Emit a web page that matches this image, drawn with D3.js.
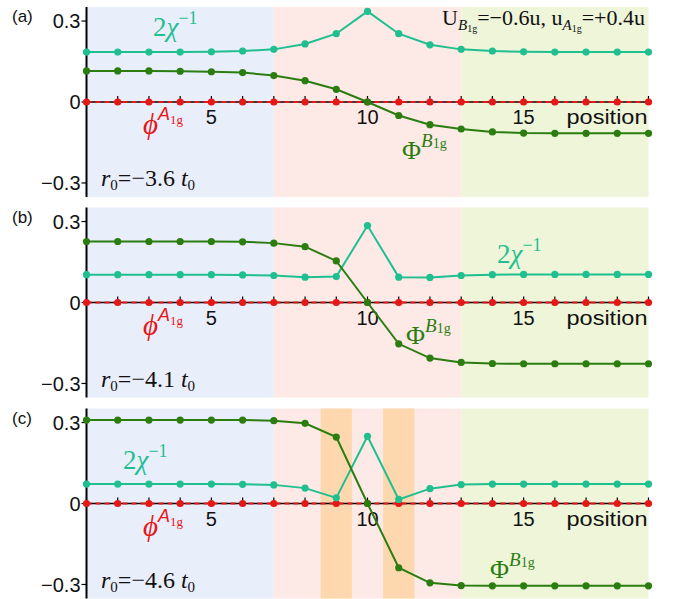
<!DOCTYPE html>
<html>
<head>
<meta charset="utf-8">
<script src="https://cdn.jsdelivr.net/npm/d3@7"></script>
<style>
  body { margin: 0; background: #fff; }
  svg { display: block; }
</style>
</head>
<body>
<div id="chart"></div>
<script>
// sites along the chain
const positions = d3.range(1, 20);
const xTicks = [5, 10, 15];
const yTicks = [-0.3, 0, 0.3];

const panelNames = ["(a)", "(b)", "(c)"];
const r0Values = ["−3.6", "−4.1", "−4.6"];

// 2 chi^-1
const chiA = [0.185, 0.185, 0.185, 0.185, 0.186, 0.189, 0.195, 0.215, 0.253, 0.336, 0.253, 0.212, 0.195, 0.189, 0.186, 0.185, 0.185, 0.185, 0.185];
const chiB = [0.103, 0.103, 0.103, 0.103, 0.103, 0.102, 0.100, 0.094, 0.096, 0.285, 0.094, 0.093, 0.100, 0.103, 0.104, 0.104, 0.104, 0.104, 0.104];
const chiC = [0.072, 0.072, 0.072, 0.072, 0.072, 0.071, 0.069, 0.057, 0.021, 0.249, 0.015, 0.055, 0.070, 0.072, 0.072, 0.072, 0.072, 0.072, 0.072];

// Phi^B1g
const phiBA = [0.115, 0.115, 0.115, 0.114, 0.112, 0.109, 0.098, 0.079, 0.047, 0, -0.050, -0.084, -0.100, -0.111, -0.115, -0.116, -0.116, -0.116, -0.116];
const phiBB = [0.226, 0.226, 0.226, 0.226, 0.226, 0.225, 0.220, 0.207, 0.154, 0, -0.153, -0.206, -0.222, -0.226, -0.227, -0.227, -0.227, -0.227, -0.227];
const phiBC = [0.309, 0.309, 0.309, 0.309, 0.309, 0.309, 0.307, 0.297, 0.246, 0, -0.238, -0.294, -0.304, -0.305, -0.305, -0.305, -0.305, -0.305, -0.305];

// phi^A1g
const phiA = positions.map(() => 0);

const chiSeries = [chiA, chiB, chiC];
const phiBSeries = [phiBA, phiBB, phiBC];

// background regions [from, to]
const regions = [[1, 7], [7, 13], [13, 19]];
const orangeBands = [[], [], [[8.5, 9.5], [10.5, 11.5]]];

const W = 673, H = 599;
const panelTops = [7, 207.5, 408.5];
const panelH = 190;
const regionColors = ["#e9eefb", "#fde9e5", "#eef5d9"];
const orange = "#fdd8ae";
const teal = "#1fbf90";
const dgreen = "#2b7d10";
const red = "#e61717";
const serif = "'Liberation Serif', 'DejaVu Serif', serif";
const sans = "'Liberation Sans', Arial, sans-serif";

// label offsets relative to panel top
const chiLabel = [[153, 29], [497, 55], [123, 60]];
const phiBLabel = [[402, 152], [406, 136], [490, 169]];

const svg = d3.select("#chart").append("svg")
  .attr("width", W).attr("height", H);

const x = d3.scaleLinear().domain([1, 19]).range([86.5, 648.5]);

function rich(g, px, py, segs, anchor) {
  const t = g.append("text").attr("x", px).attr("y", py)
    .attr("text-anchor", anchor || "start");
  segs.forEach(s => {
    t.append("tspan")
      .attr("dy", s.dy || 0)
      .attr("font-family", s.f || serif)
      .attr("font-size", s.s)
      .attr("font-style", s.i ? "italic" : "normal")
      .attr("fill", s.c || "#111")
      .text(s.t);
  });
  return t;
}

panelNames.forEach((name, p) => {
  const top = panelTops[p];
  const y = d3.scaleLinear().domain([-0.352, 0.352]).range([top + panelH, top]);
  const g = svg.append("g");

  g.selectAll("rect.reg").data(regions).join("rect")
    .attr("x", d => x(d[0])).attr("width", d => x(d[1]) - x(d[0]))
    .attr("y", top).attr("height", panelH)
    .attr("fill", (d, i) => regionColors[i]);

  g.selectAll("rect.or").data(orangeBands[p]).join("rect")
    .attr("x", d => x(d[0])).attr("width", d => x(d[1]) - x(d[0]))
    .attr("y", top).attr("height", panelH)
    .attr("fill", orange);

  // y axis
  g.append("line").attr("x1", x(1)).attr("x2", x(1))
    .attr("y1", top).attr("y2", top + panelH)
    .attr("stroke", "#000").attr("stroke-width", 2);
  g.selectAll("line.yt").data(yTicks).join("line")
    .attr("x1", x(1) - 5).attr("x2", x(1))
    .attr("y1", d => y(d)).attr("y2", d => y(d))
    .attr("stroke", "#000").attr("stroke-width", 1.2);
  g.selectAll("text.yl").data(yTicks).join("text")
    .attr("x", x(1) - 6).attr("y", d => y(d)).attr("dy", "0.36em")
    .attr("text-anchor", "end").attr("font-family", sans).attr("font-size", 20)
    .attr("fill", "#111")
    .text(d => d === 0 ? "0" : d3.format(".1f")(d).replace("-", "−"));

  // x axis at zero
  g.append("line").attr("x1", x(1)).attr("x2", x(19))
    .attr("y1", y(0)).attr("y2", y(0))
    .attr("stroke", "#000").attr("stroke-width", 1.6);
  g.selectAll("line.xt").data(positions).join("line")
    .attr("x1", d => x(d)).attr("x2", d => x(d))
    .attr("y1", y(0)).attr("y2", y(0) - 6)
    .attr("stroke", "#000").attr("stroke-width", 1.2);
  g.selectAll("text.xl").data(xTicks).join("text")
    .attr("x", d => x(d)).attr("y", y(0) + 22)
    .attr("text-anchor", "middle").attr("font-family", sans).attr("font-size", 20)
    .attr("fill", "#111").text(d => d);
  g.append("text").attr("x", x(19) - 1).attr("y", y(0) + 22)
    .attr("text-anchor", "end").attr("font-family", sans).attr("font-size", 20)
    .attr("textLength", 81).attr("lengthAdjust", "spacingAndGlyphs")
    .attr("fill", "#111").text("position");

  const line = d3.line().x((d, i) => x(positions[i])).y(d => y(d));

  // phi^A1g (red dashed over the axis)
  g.append("path").datum(phiA).attr("d", line)
    .attr("fill", "none").attr("stroke", red).attr("stroke-width", 2)
    .attr("stroke-dasharray", "5,4");
  g.selectAll("circle.pa").data(phiA).join("circle")
    .attr("cx", (d, i) => x(positions[i])).attr("cy", d => y(d))
    .attr("r", 3.6).attr("fill", red);

  // 2 chi^-1
  g.append("path").datum(chiSeries[p]).attr("d", line)
    .attr("fill", "none").attr("stroke", teal).attr("stroke-width", 2);
  g.selectAll("circle.ch").data(chiSeries[p]).join("circle")
    .attr("cx", (d, i) => x(positions[i])).attr("cy", d => y(d))
    .attr("r", 3.6).attr("fill", teal);

  // Phi^B1g
  g.append("path").datum(phiBSeries[p]).attr("d", line)
    .attr("fill", "none").attr("stroke", dgreen).attr("stroke-width", 2);
  g.selectAll("circle.pb").data(phiBSeries[p]).join("circle")
    .attr("cx", (d, i) => x(positions[i])).attr("cy", d => y(d))
    .attr("r", 3.6).attr("fill", dgreen);

  // labels
  g.append("text").attr("x", 12).attr("y", top + 15)
    .attr("font-family", sans).attr("font-size", 17).attr("fill", "#111").text(name);

  rich(g, chiLabel[p][0], top + chiLabel[p][1], [
    { t: "2", s: 27, c: teal },
    { t: "χ", s: 27, i: true, c: teal },
    { t: "−1", s: 18, dy: -12, c: teal }
  ]);

  rich(g, 143, top + 127, [
    { t: "ϕ", s: 29, i: true, c: red },
    { t: "A", s: 18, i: true, f: sans, dy: -14, c: red },
    { t: "1g", s: 13, dy: 4, c: red }
  ]);

  rich(g, phiBLabel[p][0], top + phiBLabel[p][1], [
    { t: "Φ", s: 26, c: dgreen },
    { t: "B", s: 19, i: true, dy: -12, c: dgreen },
    { t: "1g", s: 14, dy: 1, c: dgreen }
  ]);

  rich(g, 101, top + 179, [
    { t: "r", s: 24, i: true },
    { t: "0", s: 15, dy: 4 },
    { t: "=" + r0Values[p] + " ", s: 24, dy: -4 },
    { t: "t", s: 24, i: true },
    { t: "0", s: 15, dy: 4 }
  ]);

  if (p === 0) {
    rich(g, 645, top + 18, [
      { t: "U", s: 22 },
      { t: "B", s: 15, i: true, dy: 5 },
      { t: "1g", s: 10, dy: 2 },
      { t: "=−0.6u, u", s: 22, dy: -7 },
      { t: "A", s: 15, i: true, dy: 5 },
      { t: "1g", s: 10, dy: 2 },
      { t: "=+0.4u", s: 22, dy: -7 }
    ], "end");
  }
});
</script>
</body>
</html>
